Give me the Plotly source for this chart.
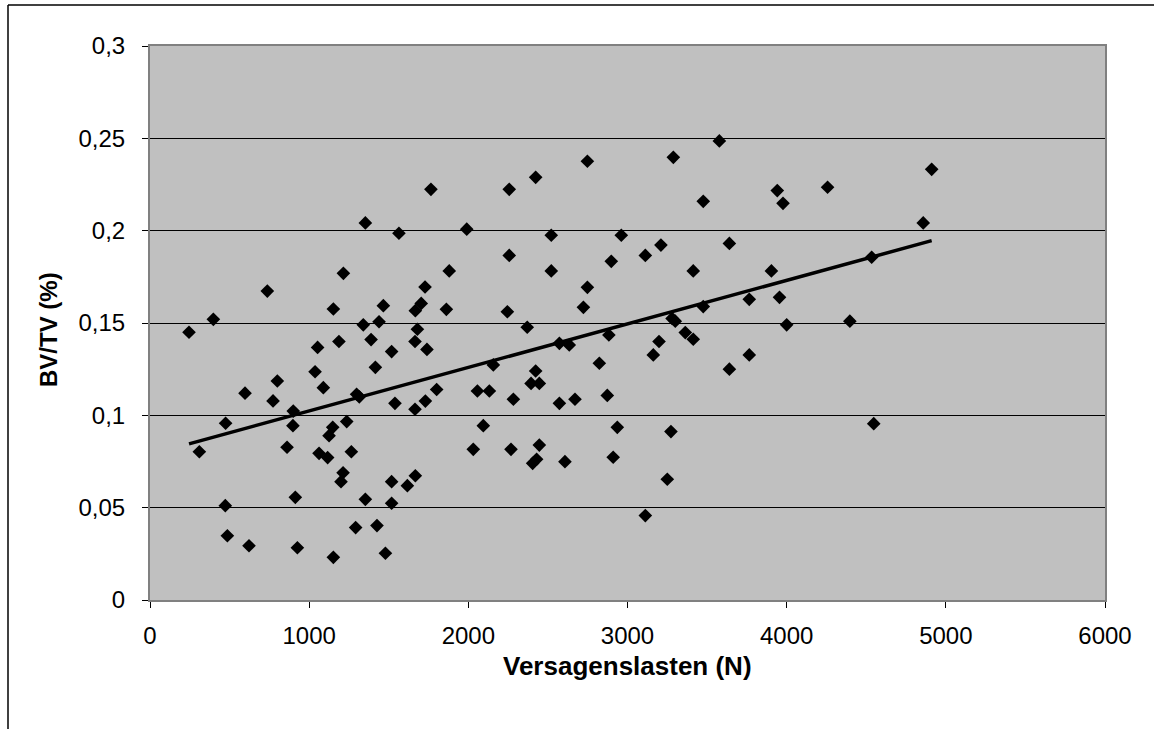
import numpy as np
import plotly.graph_objects as go

# Failure load (N)
load = [
    245, 398, 310, 475, 597, 473, 486, 622, 800, 773, 900, 898, 861, 913, 926,
    1037, 1053, 1089, 1187, 1148, 1125, 1062, 1116, 1340, 1439, 1389, 1518, 1416,
    1298, 1315, 1539, 1236, 1265, 1213, 1200, 1353, 1292, 1426, 1152, 1479, 1518,
    1518, 1617, 1667, 1667, 1680, 1665, 1740, 1801, 1730, 1665,
    737, 1152, 1215, 1353, 1564, 1765, 1990, 1880, 1728, 1704, 1862, 1466,
    2257, 2423, 2748, 3288, 3577, 3476, 3941, 3977, 2257, 2521, 2961, 2521, 2898,
    3112, 3210, 3640, 3413, 3904, 2748, 2723, 2245, 3765, 3955, 3476,
    2370, 3280, 3300, 4000, 3363, 3413, 3198, 3162, 3640, 3765, 2157, 2572, 2634,
    2883, 2823, 2423, 2394, 2446, 2057, 2132, 2283, 2572, 2670, 2873, 2094, 2936,
    3273, 2031, 2268, 2446, 2429, 2404, 2607, 2910, 3250, 3112,
    4257, 4911, 4858, 4534, 4397, 4547,
]
# BV/TV (%)
bvtv = [
    0.145, 0.152, 0.0803, 0.0957, 0.112, 0.0511, 0.0348, 0.0294, 0.1186, 0.1078,
    0.1023, 0.0944, 0.0827, 0.0556, 0.0283,
    0.1236, 0.1368, 0.115, 0.140, 0.0935, 0.089, 0.0794, 0.0771, 0.149, 0.1507,
    0.141, 0.1345, 0.126, 0.1114, 0.110, 0.1065, 0.0966, 0.0803, 0.0689, 0.0641,
    0.0545, 0.0392, 0.0403, 0.0231, 0.0253, 0.0641, 0.0524, 0.0619, 0.0673,
    0.1567, 0.1466, 0.140, 0.1357, 0.114, 0.1077, 0.1033,
    0.1673, 0.1576, 0.1769, 0.2042, 0.1986, 0.2224, 0.2008, 0.1782, 0.1695,
    0.1606, 0.1574, 0.1594,
    0.2224, 0.2289, 0.2376, 0.2397, 0.2486, 0.2159, 0.2217, 0.2148, 0.1866,
    0.1975, 0.1975, 0.1782, 0.1834, 0.1866, 0.1922, 0.1931, 0.1782, 0.1782,
    0.1693, 0.1585, 0.1561, 0.1628, 0.1639, 0.1589,
    0.1477, 0.1525, 0.151, 0.149, 0.1448, 0.1412, 0.140, 0.1327, 0.125, 0.1327,
    0.1273, 0.139, 0.1381, 0.1435, 0.1282, 0.124, 0.1173, 0.1173, 0.1132, 0.1132,
    0.1087, 0.1065, 0.1087, 0.1108, 0.0944, 0.0935, 0.0912, 0.0816, 0.0816,
    0.0839, 0.0762, 0.074, 0.0749, 0.0773, 0.0654, 0.0457,
    0.2235, 0.2332, 0.2042, 0.1856, 0.151, 0.0955,
]

x_ticks = [0, 1000, 2000, 3000, 4000, 5000, 6000]
x_tick_labels = ["0", "1000", "2000", "3000", "4000", "5000", "6000"]
y_ticks = [0, 0.05, 0.1, 0.15, 0.2, 0.25, 0.3]
y_tick_labels = ["0", "0,05", "0,1", "0,15", "0,2", "0,25", "0,3"]

x_title = "Versagenslasten (N)"
y_title = "BV/TV (%)"

# Linear trend line
xa = np.array(load, dtype=float)
ya = np.array(bvtv, dtype=float)
slope, intercept = np.polyfit(xa, ya, 1)
tx = np.array([xa.min(), xa.max()])
ty = slope * tx + intercept

FONT = "Liberation Sans, Arial, sans-serif"

fig = go.Figure()
fig.add_trace(go.Scatter(
    x=load, y=bvtv, mode="markers",
    marker=dict(symbol="diamond", size=10.5, color="#000000", line=dict(width=0)),
    showlegend=False, hoverinfo="x+y",
))
fig.add_trace(go.Scatter(
    x=tx, y=ty, mode="lines",
    line=dict(color="#000000", width=3.5),
    showlegend=False, hoverinfo="skip",
))

L, R, T, B = 150, 49, 46, 129
W, H = 1154, 729
pw, ph = W - L - R, H - T - B

def px_x(p):
    return (p - L) / pw

def px_y(p):
    return (H - B - p) / ph

fig.update_layout(
    width=W, height=H,
    margin=dict(l=L, r=R, t=T, b=B, pad=0),
    paper_bgcolor="#FFFFFF",
    plot_bgcolor="#C0C0C0",
    font=dict(family=FONT, size=24, color="#000000"),
    xaxis=dict(
        range=[0, 6000], tickvals=x_ticks, ticktext=x_tick_labels,
        showgrid=False, zeroline=False,
        showline=True, linecolor="#808080", linewidth=2, mirror=True,
        ticks="outside", ticklen=6, tickcolor="#000000", tickwidth=1,
        ticklabelstandoff=7,
        tickfont=dict(family=FONT, size=24),
    ),
    yaxis=dict(
        range=[0, 0.3], tickvals=y_ticks, ticktext=y_tick_labels,
        showgrid=True, gridcolor="#000000", gridwidth=1, zeroline=False,
        showline=True, linecolor="#808080", linewidth=2, mirror=True,
        ticks="outside", ticklen=6, tickcolor="#000000", tickwidth=1,
        ticklabelstandoff=12,
        tickfont=dict(family=FONT, size=24),
    ),
    annotations=[
        dict(text="<b>" + x_title + "</b>", xref="paper", yref="paper",
             x=0.5, y=px_y(666), xanchor="center", yanchor="middle",
             showarrow=False, font=dict(family=FONT, size=26)),
        dict(text="<b>" + y_title + "</b>", xref="paper", yref="paper",
             x=px_x(48), y=px_y(330), xanchor="center", yanchor="middle",
             textangle=-90, showarrow=False, font=dict(family=FONT, size=24)),
    ],
    shapes=[
        dict(type="line", xref="paper", yref="paper",
             x0=px_x(8), x1=px_x(1160), y0=px_y(5), y1=px_y(5),
             line=dict(color="#000000", width=1.5)),
        dict(type="line", xref="paper", yref="paper",
             x0=px_x(8), x1=px_x(8), y0=px_y(5), y1=px_y(740),
             line=dict(color="#000000", width=1.5)),
    ],
)

fig.write_html("out.html")
